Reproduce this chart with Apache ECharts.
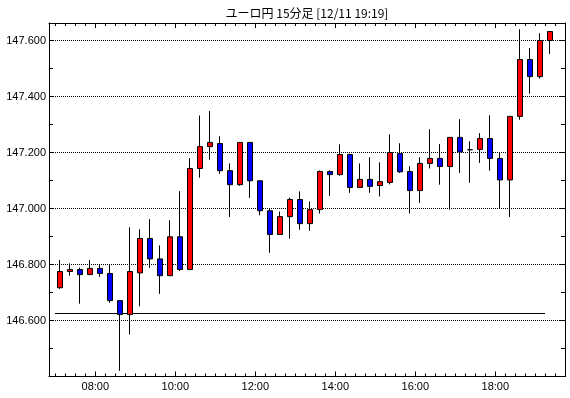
<!DOCTYPE html>
<html>
<head>
<meta charset="utf-8">
<script src="https://cdn.jsdelivr.net/npm/echarts@6/dist/echarts.min.js"></script>
<style>
html,body{margin:0;padding:0;background:#fff;}
#chart{width:570px;height:398px;}
</style>
</head>
<body>
<div id="chart"></div>
<script>
const times = ['07:00','07:15','07:30','07:45','08:00','08:15','08:30','08:45','09:00','09:15',
  '09:30','09:45','10:00','10:15','10:30','10:45','11:00','11:15','11:30','11:45',
  '12:00','12:15','12:30','12:45','13:00','13:15','13:30','13:45','14:00','14:15',
  '14:30','14:45','15:00','15:15','15:30','15:45','16:00','16:15','16:30','16:45',
  '17:00','17:15','17:30','17:45','18:00','18:15','18:30','18:45','19:00','19:15'];
const boundaryTimes = times.concat(['19:30','19:45']);
const tickLabels = ['08:00','10:00','12:00','14:00','16:00','18:00'];
const openV = [146.717,146.775,146.782,146.764,146.786,146.768,146.671,146.621,146.770,146.893,
  146.820,146.760,146.899,146.782,147.143,147.221,147.232,147.135,147.085,147.236,
  147.099,146.992,146.907,146.971,147.032,146.946,146.996,147.132,147.121,147.193,
  147.075,147.104,147.082,147.093,147.196,147.132,147.064,147.161,147.179,147.150,
  147.254,147.210,147.211,147.250,147.179,147.102,147.329,147.532,147.471,147.600];
const closeV = [146.775,146.782,146.764,146.786,146.768,146.671,146.621,146.775,146.893,146.820,
  146.760,146.899,146.782,147.143,147.221,147.236,147.135,147.085,147.236,147.099,
  146.992,146.907,146.971,147.032,146.946,146.996,147.132,147.121,147.193,147.075,
  147.104,147.079,147.096,147.200,147.131,147.064,147.161,147.179,147.150,147.254,
  147.202,147.210,147.250,147.179,147.102,147.329,147.532,147.471,147.600,147.632];
const lowV = [146.713,146.760,146.660,146.762,146.756,146.663,146.420,146.550,146.651,146.788,
  146.695,146.760,146.777,146.782,147.110,147.174,147.124,146.970,147.081,147.038,
  146.976,146.842,146.907,146.892,146.924,146.920,146.982,147.045,147.117,147.056,
  147.075,147.056,147.043,147.086,147.127,146.982,147.020,147.143,147.085,146.996,
  147.127,147.092,147.163,147.135,147.000,146.970,147.317,147.410,147.464,147.552];
const highV = [146.816,146.804,146.789,146.816,146.800,146.800,146.671,146.933,146.926,146.962,
  146.868,146.958,147.062,147.180,147.332,147.348,147.258,147.161,147.236,147.236,
  147.099,147.000,146.989,147.039,147.061,147.025,147.136,147.136,147.229,147.196,
  147.161,147.183,147.165,147.265,147.233,147.151,147.183,147.283,147.230,147.254,
  147.319,147.240,147.269,147.333,147.199,147.329,147.640,147.573,147.626,147.632];
const refLevel = 146.625;
const titleText = 'ユーロ円 15分足 [12/11 19:19]';

const candleData = times.map((t, i) => [i + 0.5, openV[i], closeV[i], lowV[i], highV[i]]);
const refLine = [[0, refLevel], [times.length - 1, refLevel]];

const chart = echarts.init(document.getElementById('chart'), null, {renderer: 'canvas'});
const black = '#000000';
const labelFont = {fontFamily: 'Liberation Sans', fontSize: 11, color: black};
function tickAxis(pos, major) {
  return {
    type: 'category', gridIndex: 1, position: pos, boundaryGap: false, data: boundaryTimes,
    axisLine: {show: false},
    axisTick: {show: true, inside: true, length: major ? 5 : 3,
      interval: major ? (idx, val) => tickLabels.indexOf(val) >= 0 : 0,
      lineStyle: {color: black, width: 1}},
    axisLabel: (major && pos === 'bottom') ? Object.assign({show: true, margin: 5,
      interval: (idx, val) => tickLabels.indexOf(val) >= 0}, labelFont) : {show: false},
    splitLine: {show: false}
  };
}
const option = {
  animation: false,
  backgroundColor: '#ffffff',
  title: {text: titleText, left: 307, textAlign: 'center', top: 7, padding: 0,
    textStyle: {fontFamily: 'Noto Sans CJK JP', fontSize: 12, fontWeight: 'normal', color: black}},
  grid: [
    {left: 49, right: 5, top: 23, bottom: 21.5, show: false},
    {left: 55.3, right: 4.7, top: 23, bottom: 21.5, show: false}
  ],
  xAxis: [
    {type: 'value', gridIndex: 0, position: 'bottom', min: -0.6, max: 51,
      axisLine: {show: true, onZero: false, lineStyle: {color: black, width: 1}},
      axisTick: {show: false}, axisLabel: {show: false}, splitLine: {show: false}},
    {type: 'value', gridIndex: 0, position: 'top', min: -0.6, max: 51,
      axisLine: {show: true, onZero: false, lineStyle: {color: black, width: 1}},
      axisTick: {show: false}, axisLabel: {show: false}, splitLine: {show: false}},
    tickAxis('bottom', false),
    tickAxis('bottom', true),
    tickAxis('top', false),
    tickAxis('top', true)
  ],
  yAxis: [
    {type: 'value', gridIndex: 0, position: 'left', min: 146.4, max: 147.6625, interval: 0.2,
      axisLine: {show: true, onZero: false, lineStyle: {color: black, width: 1}},
      axisTick: {show: true, inside: true, length: 5, lineStyle: {color: black}},
      minorTick: {show: true, splitNumber: 2, length: 4, lineStyle: {color: black}},
      axisLabel: Object.assign({show: true, margin: 3, showMaxLabel: false, showMinLabel: false,
        formatter: v => (Math.abs(v * 5 - Math.round(v * 5)) < 1e-6 ? v.toFixed(3) : '')}, labelFont),
      splitLine: {show: true, lineStyle: {color: black, width: 1, type: [1, 1]}}},
    {type: 'value', gridIndex: 0, position: 'right', min: 146.4, max: 147.6625, interval: 0.2,
      axisLine: {show: true, onZero: false, lineStyle: {color: black, width: 1}},
      axisTick: {show: true, inside: true, length: 5, lineStyle: {color: black}},
      minorTick: {show: true, splitNumber: 2, length: 4, lineStyle: {color: black}},
      axisLabel: {show: false}, splitLine: {show: false}},
    {type: 'value', gridIndex: 1, show: false, min: 146.4, max: 147.6625}
  ],
  series: [
    {type: 'line', xAxisIndex: 0, yAxisIndex: 0, data: refLine, showSymbol: false, symbol: 'none',
      lineStyle: {color: black, width: 1}, silent: true, z: 3},
    {type: 'candlestick', xAxisIndex: 0, yAxisIndex: 0, data: candleData,
      encode: {x: 0, y: [1, 2, 3, 4]}, barWidth: 6,
      itemStyle: {color: '#ff0000', color0: '#0000ff', borderColor: black, borderColor0: black,
        borderColorDoji: black, borderWidth: 1}, z: 4}
  ]
};
chart.setOption(option);
</script>
</body>
</html>
